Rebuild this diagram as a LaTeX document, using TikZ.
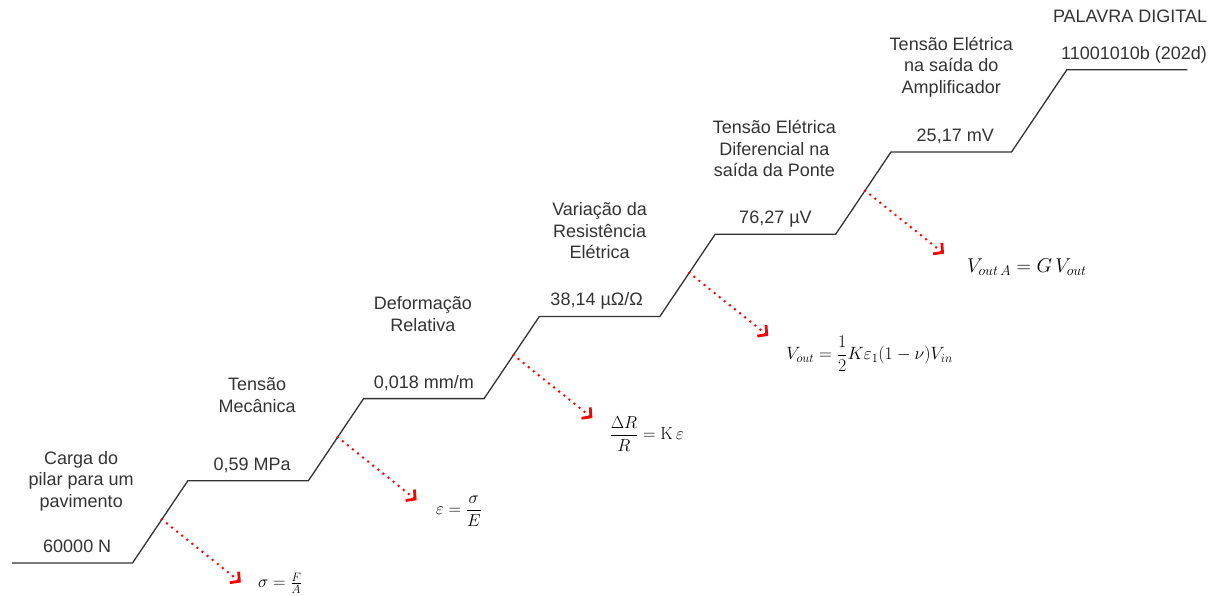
\RequirePackage{fix-cm}
\documentclass[tikz,border=0pt]{standalone}
\usepackage{amsmath,amssymb}
\usepackage[no-math]{fontspec}
\setmainfont{Liberation Sans}
\usetikzlibrary{arrows.meta, positioning, calc}

\begin{document}
\begin{tikzpicture}[
  x=1pt, y=-1pt,
  font=\fontsize{18}{21.5}\selectfont,
  stair/.style={draw=black!80, line width=1.3pt},
  val/.style={inner sep=0pt, text height=13pt, text depth=4pt, text=black!80},
  ttl/.style={inner sep=0pt, align=center, text depth=4pt, text=black!80},
  frm/.style={inner sep=0pt, font=\fontsize{17.3}{20}\selectfont},
  law/.style={draw=red, line width=2.8pt, dash pattern=on 0pt off 6.5pt, line cap=round,
    -{Straight Barb[length=6.5pt, width=14pt, line width=2.8pt]}}
]
\useasboundingbox (0,0) rectangle (1218,596);

% ---- the seven steps of the staircase
\foreach \i in {0,...,6} {
  \coordinate (l\i) at ({12+175.8*\i}, {563-82.2*\i});
  \coordinate (r\i) at ($(l\i)+(120.5,0)$);
  \coordinate (m\i) at ($(l\i)!0.5!(r\i)$);
}
\draw[stair] (l0) -- (r0) -- (l1) -- (r1) -- (l2) -- (r2) -- (l3) -- (r3)
  -- (l4) -- (r4) -- (l5) -- (r5) -- (l6) -- (r6);

% ---- values on the steps
\node[val] (v0) [above=6pt of m0, xshift=5pt]  {60000 N};
\node[val] (v1) [above=6pt of m1, xshift=4pt]  {0,59 MPa};
\node[val] (v2) [above=6pt of m2]              {0,018 mm/m};
\node[val] (v3) [above=7pt of m3, xshift=-3pt] {38,14 µΩ/Ω};
\node[val] (v4) [above=6pt of m4]              {76,27 µV};
\node[val] (v5) [above=6pt of m5, xshift=4pt]  {25,17 mV};
\node[val] (v6) [above=6pt of m6, xshift=7pt]  {11001010b (202d)};

% ---- what each value is
\node[ttl] (q0) [above=28pt of v0, xshift=4pt]  {Carga do\\pilar para um\\pavimento};
\node[ttl] (q1) [above=41pt of v1, xshift=5pt]  {Tensão\\Mecânica};
\node[ttl] (q2) [above=40pt of v2, xshift=-1pt] {Deformação\\Relativa};
\node[ttl] (q3) [above=29pt of v3, xshift=3pt]  {Variação da\\Resistência\\Elétrica};
\node[ttl] (q4) [above=30pt of v4, xshift=-1pt] {Tensão Elétrica\\Diferencial na\\saída da Ponte};
\node[ttl] (q5) [above=31pt of v5, xshift=-4pt] {Tensão Elétrica\\na saída do\\Amplificador};
\node[ttl] (q6) [above=20pt of v6, xshift=-4pt] {PALAVRA DIGITAL};

% ---- the law behind each rise
\foreach \i/\j in {0/1, 1/2, 2/3, 3/4, 4/5} {
  \coordinate (a\i) at ($(r\i)!0.53!(l\j)$);
  \coordinate (t\i) at ($(a\i)+(79,63)$);
}
\node[frm] (f0) [right=17pt of t0, yshift=-1pt]  {$\sigma=\frac{F}{A}$};
\node[frm] (f1) [right=19pt of t1, yshift=-11pt] {$\displaystyle\varepsilon=\frac{\sigma}{E}$};
\node[frm] (f2) [right=17pt of t2, yshift=-16pt] {$\displaystyle\frac{\Delta R}{R}=\mathrm{K}\,\varepsilon$};
\node[frm, font=\fontsize{17.8}{21}\selectfont] (f3) [right=18pt of t3, yshift=-18pt]
  {$\displaystyle V_{out}=\frac{1}{2}K\varepsilon_1(1-\nu)V_{in}$};
\node[frm, font=\fontsize{20}{23}\selectfont] (f4) [right=23pt of t4, yshift=-14pt]
  {$V_{out\,A}=G\,V_{out}$};

\foreach \i in {0,...,4}
  \draw[law] (a\i) -- (t\i);

\end{tikzpicture}
\end{document}
